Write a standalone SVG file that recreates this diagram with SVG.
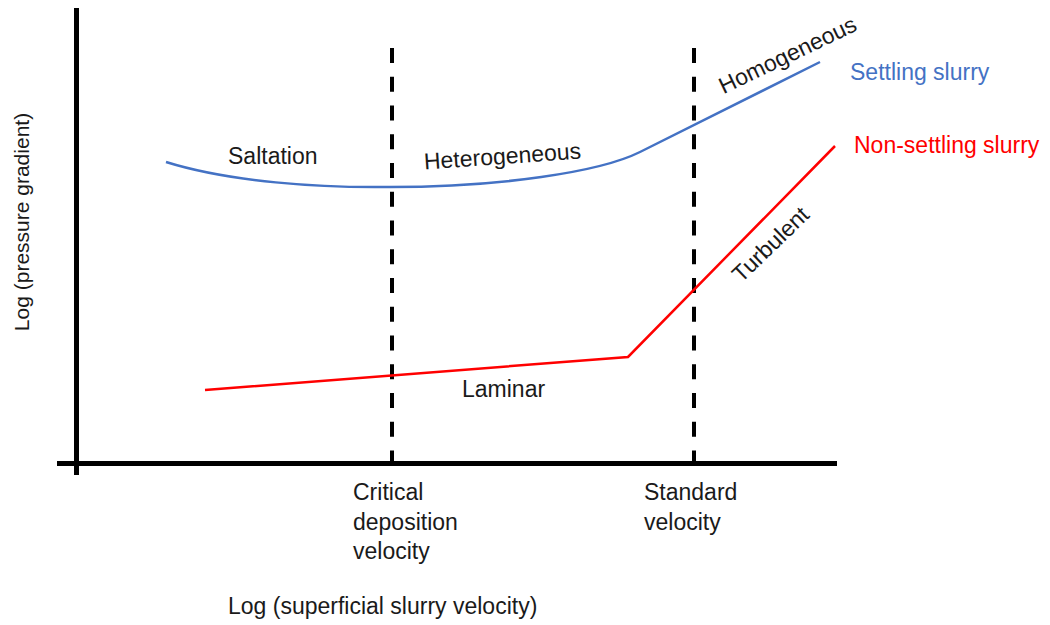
<svg xmlns="http://www.w3.org/2000/svg" width="1050" height="625" viewBox="0 0 1050 625">
<style>
  text { font-family: "Liberation Sans", Arial, sans-serif; font-size: 23px; fill: #1a1a1a; }
  .axis { stroke: #000; stroke-width: 5; fill: none; }
  .dash { stroke: #000; stroke-width: 4; stroke-dasharray: 15 13.75; fill: none; }
  .blue { stroke: #4472C4; stroke-width: 2.5; fill: none; }
  .red { stroke: #FF0000; stroke-width: 2.5; fill: none; stroke-linejoin: miter; }
</style>
<rect width="1050" height="625" fill="#fff"/>
<g id="axes">
  <line class="axis" x1="76.5" y1="8" x2="76.5" y2="475"/>
  <line class="axis" x1="57" y1="463.5" x2="837" y2="463.5"/>
</g>
<g id="reference-lines">
  <line class="dash" x1="392" y1="48" x2="392" y2="463"/>
  <line class="dash" x1="694" y1="48" x2="694" y2="463"/>
</g>
<g id="settling-curve">
  <path class="blue" d="M166,162 C230,182 320,188 390,187 C500,187 600,172 640,152 L820,62"/>
</g>
<g id="non-settling-curve">
  <path class="red" d="M205,390 L628,357 L835,146"/>
</g>
<g id="labels">
  <text x="228" y="164">Saltation</text>
  <text x="503" y="164" text-anchor="middle" transform="rotate(-4 503 164)">Heterogeneous</text>
  <text x="791" y="62" text-anchor="middle" transform="rotate(-25.5 791 62)">Homogeneous</text>
  <text x="850" y="80" style="fill:#4472C4">Settling slurry</text>
  <text x="854" y="153" style="fill:#FF0000">Non-settling slurry</text>
  <text x="776" y="250" text-anchor="middle" transform="rotate(-44 776 250)">Turbulent</text>
  <text x="462" y="397">Laminar</text>
  <text x="353" y="500">Critical</text>
  <text x="353" y="530">deposition</text>
  <text x="353" y="559">velocity</text>
  <text x="644" y="500">Standard</text>
  <text x="644" y="530">velocity</text>
  <text x="228" y="614">Log (superficial slurry velocity)</text>
  <text x="29" y="222" text-anchor="middle" transform="rotate(-90 29 222)" style="font-size:21px">Log (pressure gradient)</text>
</g>
</svg>
